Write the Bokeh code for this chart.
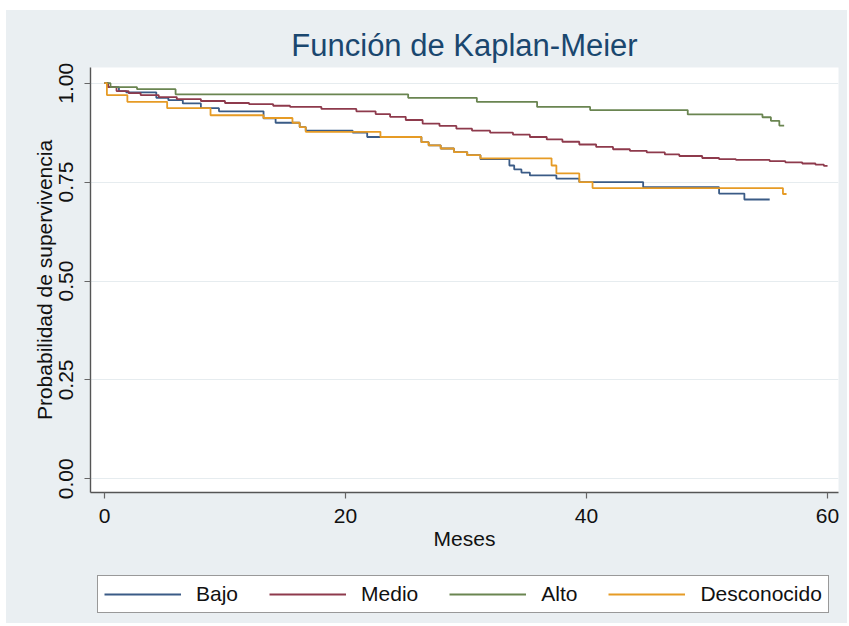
from bokeh.plotting import figure
from bokeh.models import (Range1d, FixedTicker, NumeralTickFormatter, Legend,
                          LegendItem, Spacer)
from bokeh.layouts import column, row
from bokeh.embed import file_html
from bokeh.resources import INLINE

# Kaplan-Meier survival estimates by group: step start times (months) and survival
bajo_t = [0, 0.3, 1.2, 1.8, 4.3, 5.3, 6.5, 8.0, 9.5, 13.2, 14.2, 16.2, 16.7, 20.6,
          21.8, 26.3, 26.9, 27.9, 29.0, 30.1, 31.2, 33.6, 34.0, 34.6, 35.3, 37.5,
          39.4, 44.7, 51.0, 53.1, 55.2]
bajo_s = [1.0, 0.99, 0.98, 0.977, 0.963, 0.957, 0.949, 0.937, 0.929, 0.911, 0.900,
          0.889, 0.880, 0.875, 0.864, 0.851, 0.843, 0.835, 0.826, 0.818, 0.808,
          0.792, 0.782, 0.774, 0.767, 0.759, 0.750, 0.737, 0.721, 0.706, 0.706]

medio_t = [0, 0.3, 1.0, 2.0, 3.0, 4.5, 6.0, 8.0, 10.0, 12.0, 14.0, 15.4, 18.0,
           20.9, 22.5, 23.7, 25.0, 26.4, 27.8, 29.2, 30.5, 32.0, 33.9, 35.3, 36.7,
           38.0, 39.4, 40.8, 42.2, 43.6, 45.0, 46.5, 47.7, 49.6, 51.0, 52.4, 55.2,
           56.5, 57.9, 59.0, 59.7, 60.0]
medio_s = [1.0, 0.99, 0.98, 0.975, 0.97, 0.965, 0.96, 0.955, 0.95, 0.947, 0.943,
           0.940, 0.935, 0.929, 0.922, 0.915, 0.907, 0.898, 0.892, 0.885, 0.880,
           0.875, 0.870, 0.864, 0.858, 0.852, 0.845, 0.839, 0.833, 0.829, 0.825,
           0.820, 0.816, 0.811, 0.808, 0.806, 0.803, 0.800, 0.797, 0.794, 0.791,
           0.791]

alto_t = [0, 0.5, 2.7, 5.9, 25.2, 30.9, 35.9, 40.3, 48.4, 54.6, 55.3, 56.0, 56.4]
alto_s = [1.0, 0.99, 0.985, 0.972, 0.963, 0.953, 0.940, 0.932, 0.921, 0.914,
          0.905, 0.893, 0.893]

desc_t = [0, 0.2, 1.9, 5.2, 8.8, 13.2, 15.6, 16.2, 16.7, 22.9, 26.3, 26.9, 27.9,
          29.0, 30.1, 31.2, 37.1, 37.5, 39.4, 40.5, 56.3, 56.6]
desc_s = [1.0, 0.970, 0.953, 0.937, 0.919, 0.912, 0.900, 0.889, 0.877, 0.864,
          0.851, 0.843, 0.835, 0.826, 0.818, 0.810, 0.792, 0.772, 0.750, 0.735,
          0.720, 0.720]

groups = ["Bajo", "Medio", "Alto", "Desconocido"]
colors = ["#3a5b86", "#8e3a4c", "#6a8551", "#e69b25"]
x_ticks = [0, 20, 40, 60]
y_ticks = [0, 0.25, 0.5, 0.75, 1.0]

series = [(bajo_t, bajo_s), (medio_t, medio_s), (alto_t, alto_s), (desc_t, desc_s)]

FONT = "Liberation Sans"
BG = "#eaeff2"

# ---- main survival plot ----
p = figure(width=841, height=555,
           x_range=Range1d(-1.16, 60.91), y_range=Range1d(-0.0346, 1.0397),
           output_backend="svg", toolbar_location=None,
           min_border_left=84, min_border_right=9,
           min_border_top=57, min_border_bottom=73,
           background_fill_color="white", border_fill_color=BG,
           outline_line_color=None)

p.title.text = "Función de Kaplan-Meier"
p.title.align = "center"
p.title.text_font = FONT
p.title.text_font_size = "31px"
p.title.text_font_style = "normal"
p.title.text_color = "#1a476f"
p.title.standoff = 9

for (t, s), c in zip(series, colors):
    p.step(t, s, mode="after", line_color=c, line_width=1.8)

p.xaxis.ticker = FixedTicker(ticks=x_ticks)
p.yaxis.ticker = FixedTicker(ticks=y_ticks)
p.yaxis.formatter = NumeralTickFormatter(format="0.00")
p.yaxis.major_label_orientation = "vertical"
p.xaxis.axis_label = "Meses"
p.yaxis.axis_label = "Probabilidad de supervivencia"
for ax in (p.xaxis, p.yaxis):
    ax.axis_line_color = "#555555"
    ax.axis_line_width = 1.4
    ax.major_tick_line_color = "#666666"
    ax.major_tick_line_width = 1.2
    ax.major_tick_out = 6
    ax.major_tick_in = 0
    ax.minor_tick_out = 0
    ax.minor_tick_in = 0
    ax.major_label_text_font = FONT
    ax.major_label_text_font_size = "21px"
    ax.major_label_text_color = "#111111"
    ax.axis_label_text_font = FONT
    ax.axis_label_text_font_size = "21px"
    ax.axis_label_text_font_style = "normal"
    ax.axis_label_text_color = "#111111"
p.xaxis.major_label_standoff = 10
p.xaxis.axis_label_standoff = 1
p.yaxis.major_label_standoff = 11
p.yaxis.axis_label_standoff = 1

p.xgrid.grid_line_color = None
p.ygrid.grid_line_color = "#e6ecef"
p.ygrid.grid_line_width = 1

# ---- legend strip under the plot (frames are aligned with the plot above) ----
q = figure(width=841, height=58, x_range=Range1d(-1.16, 60.91),
           y_range=Range1d(-0.0346, 1.0397),
           output_backend="svg", toolbar_location=None,
           x_axis_type=None, y_axis_type=None,
           min_border=0, background_fill_color=None, border_fill_color=BG,
           outline_line_color=None)
q.xgrid.grid_line_color = None
q.ygrid.grid_line_color = None

keys = []
for (t, s), c in zip(series, colors):
    keys.append(q.step(t, s, mode="after", line_color=c, line_width=1.8,
                       visible=False))

legend = Legend(
    items=[LegendItem(label=g, renderers=[r]) for g, r in zip(groups, keys)],
    location=(7, 10), orientation="horizontal",
    glyph_width=77, glyph_height=20, label_standoff=15, spacing=31,
    padding=6, margin=0,
    label_text_font=FONT, label_text_font_size="21px", label_text_color="#111111",
    border_line_color="#333333", border_line_width=1,
    background_fill_color="white", background_fill_alpha=1.0,
)
q.add_layout(legend)

panel = column(p, q, spacing=0, styles={"background-color": BG})
layout = column(Spacer(width=847, height=10),
                row(Spacer(width=6, height=613), panel))

with open("out.html", "w") as f:
    f.write(file_html(layout, INLINE))
